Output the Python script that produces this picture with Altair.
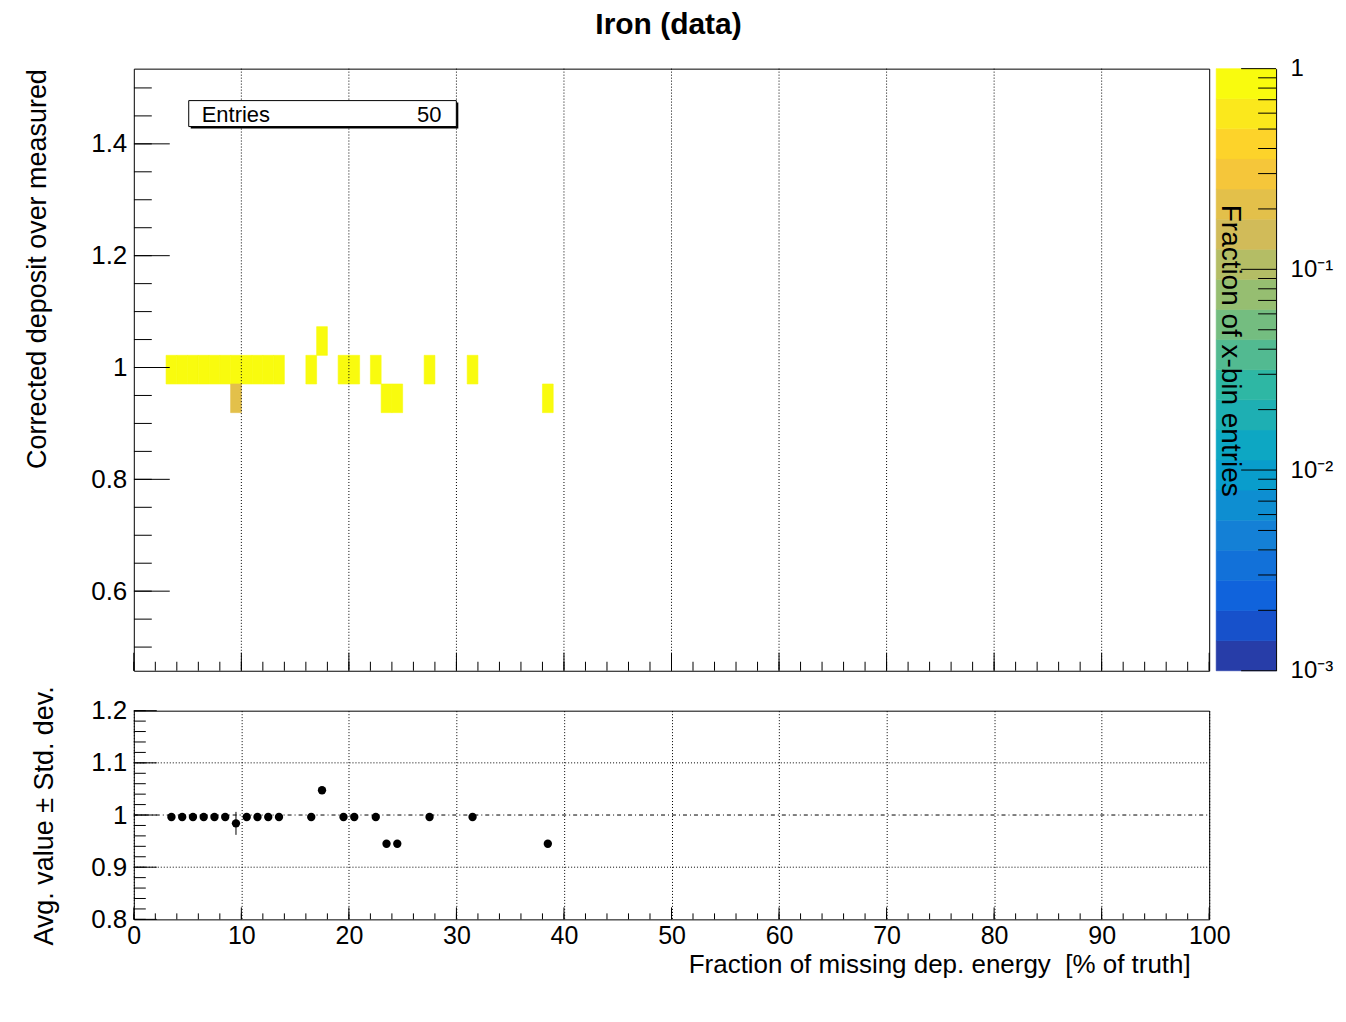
import altair as alt
import pandas as pd
import numpy as np

# ---------------- data ----------------
# 2D histogram cells: lower x-bin edge, y-bin centre, fraction of x-bin entries
CELL_X = [3, 4, 5, 6, 7, 8, 9, 10, 11, 12, 13, 9, 16, 17, 19, 20, 22, 23, 24, 27, 31, 38]
CELL_Y = [0.9962, 0.9962, 0.9962, 0.9962, 0.9962, 0.9962, 0.9962, 0.9962, 0.9962, 0.9962, 0.9962,
          0.9449, 0.9962, 1.0474, 0.9962, 0.9962, 0.9962, 0.9449, 0.9449, 0.9962, 0.9962, 0.9449]
CELL_FRAC = [1.0, 1.0, 1.0, 1.0, 1.0, 1.0, 0.8, 1.0, 1.0, 1.0, 1.0,
             0.2, 1.0, 1.0, 1.0, 1.0, 1.0, 1.0, 1.0, 1.0, 1.0, 1.0]
XBIN = 1.0
YBIN = 0.05128

# profile (avg value +- std dev) in the lower panel
PROF_X = [3.5, 4.5, 5.5, 6.5, 7.5, 8.5, 9.5, 10.5, 11.5, 12.5, 13.5, 16.5, 17.5,
          19.5, 20.5, 22.5, 23.5, 24.5, 27.5, 31.5, 38.5]
PROF_Y = [0.9962, 0.9962, 0.9962, 0.9962, 0.9962, 0.9962, 0.984, 0.9962, 0.9962, 0.9962, 0.9962,
          0.9962, 1.0474, 0.9962, 0.9962, 0.9962, 0.9449, 0.9449, 0.9962, 0.9962, 0.9449]
PROF_ERR = [0, 0, 0, 0, 0, 0, 0.022, 0, 0, 0, 0, 0, 0, 0, 0, 0, 0, 0, 0, 0, 0]

ENTRIES = 50

# axis ticks / labels
TOP_Y_MAJOR = [0.6, 0.8, 1.0, 1.2, 1.4]
TOP_Y_MINOR = [round(v, 3) for v in np.arange(0.5, 1.5001, 0.05)]
X_MAJOR = list(range(0, 101, 10))
X_MINOR = list(range(0, 101, 2))
X_GRID = list(range(10, 100, 10))
BOT_Y_MAJOR = [0.8, 0.9, 1.0, 1.1, 1.2]
BOT_Y_MINOR = [round(v, 3) for v in np.arange(0.8, 1.2001, 0.02)]
BOT_Y_GRID = [0.9, 1.1]
CB_MAJOR = [0.001, 0.01, 0.1, 1.0]
CB_MINOR = [k * 10.0 ** e for e in (-3, -2, -1) for k in range(2, 10)]

# ROOT kBird palette stops, 20 contour levels in log z
BIRD_STOPS = [0.0, 0.125, 0.25, 0.375, 0.5, 0.625, 0.75, 0.875, 1.0]
BIRD_R = [0.2082, 0.0592, 0.0780, 0.0232, 0.1802, 0.5301, 0.8186, 0.9956, 0.9764]
BIRD_G = [0.1664, 0.3599, 0.5041, 0.6419, 0.7178, 0.7492, 0.7328, 0.7862, 0.9832]
BIRD_B = [0.5293, 0.8684, 0.8385, 0.7914, 0.6425, 0.4662, 0.3499, 0.1968, 0.0539]
NLEV = 20

# ---------------- styling / layout ----------------
FONT = "Liberation Sans"
W, H1, H2, CBW = 1077, 603, 209, 60


def bird(k):
    idx = int((k + 0.99) * 255 / NLEV)
    t = min(idx, 254) / 254.0
    r = np.interp(t, BIRD_STOPS, BIRD_R)
    g = np.interp(t, BIRD_STOPS, BIRD_G)
    b = np.interp(t, BIRD_STOPS, BIRD_B)
    return "#%02x%02x%02x" % (int(round(r * 255)), int(round(g * 255)), int(round(b * 255)))


LEV_EDGES = [10 ** (-3 + 3 * k / NLEV) for k in range(NLEV + 1)]
LEV_COLORS = [bird(k) for k in range(NLEV)]

cells = pd.DataFrame({"x": CELL_X, "y": CELL_Y, "frac": CELL_FRAC})
cells["x0"] = cells["x"]
cells["x1"] = cells["x"] + XBIN
cells["y0"] = cells["y"] - YBIN / 2
cells["y1"] = cells["y"] + YBIN / 2

prof = pd.DataFrame({"px": PROF_X, "py": PROF_Y, "err": PROF_ERR})
prof["lo"] = prof["py"] - prof["err"]
prof["hi"] = prof["py"] + prof["err"]

bands = pd.DataFrame({"lo": LEV_EDGES[:-1], "hi": LEV_EDGES[1:], "col": LEV_COLORS})

xscale = alt.Scale(domain=[0, 100], nice=False, zero=False)
ytop_scale = alt.Scale(domain=[0.4577, 1.5345], nice=False, zero=False)
ybot_scale = alt.Scale(domain=[0.8, 1.2], nice=False, zero=False)
cb_scale = alt.Scale(type="log", domain=[0.001, 1], nice=False)

frame = alt.ViewBackground(stroke="black", strokeWidth=1, fill="white")

# shared axis definitions (identical in every layer so they merge)
AX_TOP_X = alt.Axis(values=X_GRID, labels=False, ticks=False, tickSize=0, domain=False,
                    grid=False, title=None)
AX_TOP_Y = alt.Axis(values=TOP_Y_MAJOR, format="~g", grid=False, ticks=False, tickSize=0,
                    domain=False, labelFont=FONT, labelFontSize=26, labelColor="black",
                    labelPadding=7, labelFlush=False, labelOverlap=False,
                    title="Corrected deposit over measured", titleFont=FONT,
                    titleFontSize=27, titleFontWeight="normal", titleColor="black",
                    titleAngle=-90, titleAlign="right", titleBaseline="alphabetic",
                    titleX=-88, titleY=0)
AX_BOT_X = alt.Axis(values=X_MAJOR, format="d", grid=True, gridColor="black", gridDash=[1, 2],
                    gridWidth=1, gridOpacity=1, ticks=False, tickSize=0, domain=False,
                    labelFont=FONT, labelFontSize=25, labelColor="black", labelPadding=4,
                    labelFlush=False, labelOverlap=False,
                    title="Fraction of missing dep. energy \u00a0[% of truth]",
                    titleFont=FONT, titleFontSize=26, titleFontWeight="normal",
                    titleColor="black", titleAlign="right", titleBaseline="alphabetic",
                    titleX=1058, titleY=53)
AX_BOT_Y = alt.Axis(values=BOT_Y_MAJOR, format="~g", grid=False, ticks=False, tickSize=0,
                    domain=False, labelFont=FONT, labelFontSize=26, labelColor="black",
                    labelPadding=7, labelFlush=False, labelOverlap=False,
                    title="Avg. value \u00b1 Std. dev.", titleFont=FONT, titleFontSize=27,
                    titleFontWeight="normal", titleColor="black", titleAngle=-90,
                    titleAlign="right", titleBaseline="alphabetic",
                    titleX=-81, titleY=-25)
AX_CB = alt.Axis(orient="right", values=CB_MAJOR,
                 labelExpr="datum.value > 0.5 ? '1' : datum.value > 0.05 ? '10\u207b\u00b9' : datum.value > 0.005 ? '10\u207b\u00b2' : '10\u207b\u00b3'",
                 grid=False, ticks=False, tickSize=0, domain=True, domainColor="black",
                 domainWidth=1, labelFont=FONT, labelFontSize=24, labelColor="black",
                 labelPadding=14, labelAlign="left", labelBaseline="middle",
                 labelFlush=False, labelOverlap=False,
                 title="Fraction of x-bin entries", titleFont=FONT, titleFontSize=28,
                 titleFontWeight="normal", titleColor="black", titleAngle=90,
                 titleAlign="center", titleBaseline="alphabetic",
                 titleX=-55, titleY=282, zindex=1)


def TX(f):
    return alt.X(f, scale=xscale, axis=AX_TOP_X)


def TY(f):
    return alt.Y(f, scale=ytop_scale, axis=AX_TOP_Y)


def BX(f):
    return alt.X(f, scale=xscale, axis=AX_BOT_X)


def BY(f):
    return alt.Y(f, scale=ybot_scale, axis=AX_BOT_Y)


def CY(f):
    return alt.Y(f, scale=cb_scale, axis=AX_CB)


color_scale = alt.Scale(type="threshold", domain=LEV_EDGES[1:-1], range=LEV_COLORS)

# ---------------- top panel ----------------
heat = alt.Chart(cells).mark_rect(strokeWidth=0.6).encode(
    x=TX("x0:Q"), x2="x1:Q", y=TY("y0:Q"), y2="y1:Q",
    color=alt.Color("frac:Q", scale=color_scale, legend=None),
    stroke=alt.Stroke("frac:Q", scale=color_scale, legend=None),
)

# vertical grid drawn over the cells but under the statistics box
tgrid = alt.Chart(pd.DataFrame({"v": X_GRID})).mark_rule(color="black", strokeWidth=1, strokeDash=[1, 2]).encode(
    x=TX("v:Q"), y=alt.value(0), y2=alt.value(H1))

ty_maj = alt.Chart(pd.DataFrame({"v": TOP_Y_MAJOR})).mark_rule(color="black", strokeWidth=1, clip=True).encode(
    y=TY("v:Q"), x=alt.value(0), x2=alt.value(36))
ty_min = alt.Chart(pd.DataFrame({"v": TOP_Y_MINOR})).mark_rule(color="black", strokeWidth=1, clip=True).encode(
    y=TY("v:Q"), x=alt.value(0), x2=alt.value(18))
tx_maj = alt.Chart(pd.DataFrame({"v": X_MAJOR})).mark_rule(color="black", strokeWidth=1).encode(
    x=TX("v:Q"), y=alt.value(H1 - 18), y2=alt.value(H1))
tx_min = alt.Chart(pd.DataFrame({"v": X_MINOR})).mark_rule(color="black", strokeWidth=1).encode(
    x=TX("v:Q"), y=alt.value(H1 - 9), y2=alt.value(H1))

stat_df = pd.DataFrame({"label": ["Entries"], "value": [str(ENTRIES)]})
box_shadow = alt.Chart(stat_df).mark_rect(fill="black").encode(
    x=alt.value(57), x2=alt.value(325), y=alt.value(34), y2=alt.value(60))
box = alt.Chart(stat_df).mark_rect(fill="white", stroke="black", strokeWidth=1).encode(
    x=alt.value(55), x2=alt.value(323), y=alt.value(32), y2=alt.value(58))
box_lab = alt.Chart(stat_df).mark_text(font=FONT, fontSize=22, align="left", baseline="alphabetic",
                                       color="black").encode(
    text="label:N", x=alt.value(68), y=alt.value(53))
box_val = alt.Chart(stat_df).mark_text(font=FONT, fontSize=22, align="right", baseline="alphabetic",
                                       color="black").encode(
    text="value:N", x=alt.value(308), y=alt.value(53))

top = alt.layer(heat, tgrid, ty_min, ty_maj, tx_min, tx_maj, box_shadow, box, box_lab, box_val).properties(
    width=W, height=H1, view=frame,
    title=alt.TitleParams("Iron (data)", font=FONT, fontSize=30, fontWeight="bold", color="black",
                          anchor="middle", baseline="alphabetic", offset=4, dx=-3))

# ---------------- colour bar ----------------
cb_rect = alt.Chart(bands).mark_rect(strokeWidth=0.6).encode(
    y=CY("lo:Q"), y2="hi:Q",
    x=alt.value(0), x2=alt.value(CBW),
    color=alt.Color("col:N", scale=None),
    stroke=alt.Stroke("col:N", scale=None),
)
cb_maj = alt.Chart(pd.DataFrame({"v": CB_MAJOR})).mark_rule(color="black", strokeWidth=1).encode(
    y=CY("v:Q"), x=alt.value(CBW - 35), x2=alt.value(CBW))
cb_min = alt.Chart(pd.DataFrame({"v": CB_MINOR})).mark_rule(color="black", strokeWidth=1).encode(
    y=CY("v:Q"), x=alt.value(CBW - 18), x2=alt.value(CBW))

cbar = alt.layer(cb_rect, cb_min, cb_maj).properties(
    width=CBW, height=H1, view=alt.ViewBackground(stroke=None))

# ---------------- bottom panel ----------------
pts = alt.Chart(prof).mark_circle(color="black", opacity=1, size=70).encode(
    x=BX("px:Q"), y=BY("py:Q"))
errs = alt.Chart(prof).mark_rule(color="black", strokeWidth=1).encode(
    x=BX("px:Q"), y=BY("lo:Q"), y2="hi:Q")

hgrid = alt.Chart(pd.DataFrame({"v": BOT_Y_GRID})).mark_rule(color="black", strokeWidth=1, strokeDash=[1, 2]).encode(
    y=BY("v:Q"), x=alt.value(0), x2=alt.value(W))
refline = alt.Chart(pd.DataFrame({"v": [1.0]})).mark_rule(color="black", strokeWidth=1, strokeDash=[4, 3, 1, 3]).encode(
    y=BY("v:Q"), x=alt.value(0), x2=alt.value(W))

by_maj = alt.Chart(pd.DataFrame({"v": BOT_Y_MAJOR})).mark_rule(color="black", strokeWidth=1).encode(
    y=BY("v:Q"), x=alt.value(0), x2=alt.value(23))
by_min = alt.Chart(pd.DataFrame({"v": BOT_Y_MINOR})).mark_rule(color="black", strokeWidth=1).encode(
    y=BY("v:Q"), x=alt.value(0), x2=alt.value(12))
bx_maj = alt.Chart(pd.DataFrame({"v": X_MAJOR})).mark_rule(color="black", strokeWidth=1).encode(
    x=BX("v:Q"), y=alt.value(H2 - 12), y2=alt.value(H2))
bx_min = alt.Chart(pd.DataFrame({"v": X_MINOR})).mark_rule(color="black", strokeWidth=1).encode(
    x=BX("v:Q"), y=alt.value(H2 - 6), y2=alt.value(H2))

bottom = alt.layer(hgrid, refline, by_min, by_maj, bx_min, bx_maj, errs, pts).properties(
    width=W, height=H2, view=frame)

chart = alt.concat(top, cbar, bottom, columns=2, spacing={"row": 40, "column": 7},
                   bounds="flush", align="each").properties(
    padding={"left": 15, "top": 1, "right": 5, "bottom": 5},
    background="white",
)

chart.save("out.html", embed_options={"renderer": "svg", "actions": False})
